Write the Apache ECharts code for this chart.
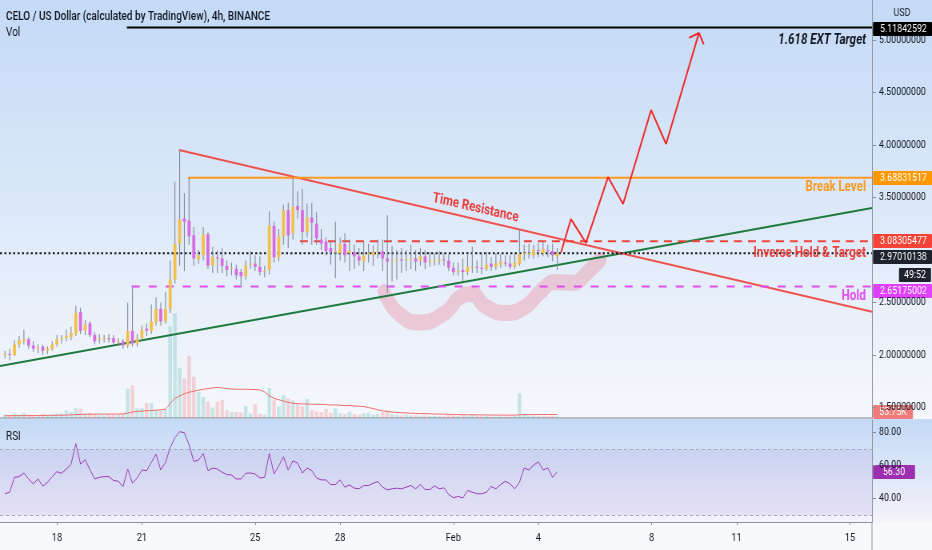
<!DOCTYPE html>
<html>
<head>
<meta charset="utf-8">
<script src="https://cdn.jsdelivr.net/npm/echarts@6/dist/echarts.min.js"></script>
<style>
  html, body { margin: 0; padding: 0; background: #f7f8fc; overflow: hidden; }
  body { width: 932px; height: 550px; }
  /* The chart is laid out on a wider canvas and narrowed horizontally,
     which gives the condensed look of the trading terminal's type. */
  #chart { width: 1165px; height: 550px; transform: scaleX(0.8); transform-origin: 0 0; }
</style>
</head>
<body>
<div id="chart"></div>
<script>
// ---- CELO/USD 4h candles (Binance) ----
// Time is measured in days: Jan d 00:00 = d, Feb 1 00:00 = 32.
const FIRST_BAR_DAY = 16 + 4 / 24;     // Jan 16 04:00
const BAR_DAYS = 4 / 24;                // 4h bars

// [open, high, low, close]
const candles = [
  [2.00,2.04,1.97,2.01],[2.01,2.06,1.95,2.00],[2.00,2.14,1.99,2.10],[2.10,2.18,2.07,2.14],
  [2.13,2.24,2.10,2.15],[2.15,2.17,2.06,2.09],[2.09,2.13,2.03,2.06],[2.06,2.10,2.02,2.07],
  [2.08,2.10,2.00,2.04],[2.04,2.08,2.01,2.06],[2.06,2.13,2.04,2.10],[2.10,2.19,2.08,2.15],
  [2.15,2.19,2.11,2.16],[2.16,2.24,2.13,2.18],[2.17,2.27,2.14,2.21],[2.20,2.47,2.18,2.40],
  [2.41,2.45,2.20,2.23],[2.23,2.33,2.19,2.29],[2.30,2.32,2.17,2.19],[2.19,2.22,2.10,2.13],
  [2.14,2.20,2.11,2.15],[2.15,2.19,2.12,2.16],[2.16,2.20,2.12,2.15],[2.16,2.19,2.10,2.12],
  [2.12,2.16,2.09,2.13],[2.13,2.15,2.06,2.09],[2.09,2.50,2.07,2.23],[2.23,2.65,2.08,2.11],
  [2.11,2.20,2.08,2.16],[2.16,2.28,2.13,2.24],[2.25,2.30,2.18,2.23],[2.23,2.48,2.20,2.32],
  [2.31,2.55,2.28,2.44],[2.44,2.50,2.28,2.32],[2.32,2.60,2.30,2.44],[2.44,2.90,2.40,2.72],
  [2.72,3.65,2.68,3.06],[3.06,3.95,2.85,3.29],[3.30,3.54,2.80,3.27],[3.28,3.69,3.05,3.13],
  [3.14,3.22,2.85,2.92],[2.91,3.00,2.87,2.95],[2.95,3.22,2.90,3.15],[3.15,3.17,2.82,2.85],
  [2.85,3.03,2.78,2.93],[2.93,3.00,2.78,2.92],[2.92,3.02,2.78,2.85],[2.85,2.90,2.75,2.81],
  [2.82,2.88,2.76,2.83],[2.82,2.86,2.72,2.76],[2.79,2.82,2.66,2.75],[2.75,2.90,2.72,2.85],
  [2.86,2.99,2.82,2.87],[2.87,2.95,2.80,2.84],[2.84,2.94,2.76,2.79],[2.80,2.85,2.74,2.80],
  [2.81,3.37,2.77,3.23],[3.23,3.27,2.88,2.93],[2.93,3.20,2.89,3.13],[3.13,3.43,3.05,3.38],
  [3.38,3.45,3.02,3.14],[3.16,3.69,3.10,3.41],[3.42,3.56,3.30,3.38],[3.38,3.58,3.05,3.17],
  [3.17,3.44,3.12,3.31],[3.31,3.45,3.05,3.26],[3.25,3.36,3.05,3.11],[3.10,3.20,3.00,3.06],
  [3.08,3.12,2.95,2.99],[3.02,3.09,2.86,2.98],[2.98,3.27,2.73,2.99],[2.97,3.12,2.90,3.06],
  [3.06,3.16,2.88,2.95],[2.97,3.10,2.80,2.99],[2.98,3.05,2.82,2.94],[2.94,3.02,2.85,2.90],
  [2.89,3.08,2.80,2.95],[2.96,3.06,2.88,2.97],[2.95,3.04,2.85,2.98],[2.99,3.10,2.92,2.99],
  [2.99,3.10,2.80,2.92],[2.92,3.33,2.59,2.89],[2.89,3.04,2.70,2.90],[2.90,3.00,2.72,2.91],
  [2.91,3.02,2.78,2.90],[2.90,3.00,2.80,2.91],[2.91,3.05,2.82,2.92],[2.92,3.00,2.80,2.89],
  [2.90,3.02,2.85,2.94],[2.94,3.00,2.82,2.88],[2.89,2.98,2.84,2.90],[2.90,2.97,2.85,2.90],
  [2.90,2.99,2.86,2.91],[2.91,2.97,2.85,2.90],[2.90,2.96,2.80,2.83],[2.83,2.88,2.76,2.79],
  [2.79,2.88,2.76,2.80],[2.81,2.92,2.70,2.79],[2.79,2.95,2.76,2.84],[2.84,3.03,2.78,2.84],
  [2.84,2.90,2.78,2.83],[2.83,2.97,2.77,2.82],[2.82,2.98,2.80,2.86],[2.87,2.93,2.80,2.84],
  [2.84,2.97,2.81,2.87],[2.86,2.96,2.83,2.89],[2.88,2.95,2.84,2.87],[2.87,2.95,2.82,2.84],
  [2.84,2.96,2.82,2.88],[2.87,3.20,2.85,2.96],[2.96,3.05,2.90,2.97],[2.97,3.06,2.92,2.97],
  [2.95,3.05,2.92,3.00],[3.00,3.07,2.93,2.99],[2.97,3.08,2.94,3.01],[3.00,3.05,2.93,2.99],
  [2.99,3.06,2.89,2.95],[2.94,3.02,2.81,2.97010138]
];

// Volume per bar, thousands of CELO
const volume = [
  60,45,70,55,80,50,45,40,60,50,55,70,65,120,95,150,145,70,80,60,
  45,40,50,55,45,60,450,500,150,150,230,230,120,110,130,1400,1600,770,610,950,
  630,400,320,250,160,250,280,120,90,90,80,180,70,210,60,50,460,280,180,350,
  300,270,210,180,290,120,100,90,140,80,150,70,60,90,60,50,70,80,50,60,
  90,110,60,50,40,50,40,45,35,40,30,35,30,25,45,40,30,45,35,50,
  30,25,30,25,20,25,20,25,30,380,60,40,35,30,25,30,35,25
];

// Volume moving average, thousands
const volumeMA = [
  35,35,36,36,37,37,38,38,39,40,40,41,42,45,48,52,55,57,58,59,
  60,60,60,61,61,62,75,90,100,105,110,115,120,125,135,220,300,340,370,395,
  410,425,440,450,460,470,460,450,445,440,440,440,438,435,430,400,340,300,280,260,
  240,225,220,215,215,210,210,210,205,200,200,195,190,190,185,180,175,160,145,125,
  110,100,90,85,80,77,74,70,68,66,64,62,60,58,56,54,52,51,50,49,
  48,47,46,45,45,44,44,44,44,50,51,52,52,53,53,53.5,53.7,53.75
];

// RSI(14)
const rsi = [
  43,44,53,53.4,55.6,52,49,52,47.6,50,
  53.4,56.4,55.4,58,61,73.4,61,63.6,57.6,52,
  53,53.4,53.4,51,50.6,47.4,58,49.4,52.6,57.4,
  57,62,67,57.4,62,71,77,80.6,80,72.6,
  62.6,63.4,67.4,57,58.6,58,56,54.6,54.4,52,
  52,55.4,55.6,55,52.6,53,67.4,55,60,65.4,
  57.4,63,61.6,55.6,58.6,57,52.6,51.4,51.4,48.6,
  48.6,51.4,47,48.4,46.4,46,48,48,49.4,50.4,
  47,45.4,46,46.4,46,47,48,46,48.6,45.6,
  45.6,47.8,46,46.6,42.6,40.6,41.4,40.4,45,44,
  43,43,44,47.4,46,48.6,50.6,49,46,50,
  58.6,57.4,60.4,62.4,57.4,58.6,53,56.3
];

// ---- Drawn levels and studies ----
const EXT_TARGET = 5.11842592;
const BREAK_LEVEL = 3.68831517;
const INVERSE_TARGET = 3.08305477;
const LAST_PRICE = 2.97010138;
const HOLD_LEVEL = 2.65175002;

const extTargetStartDay = 20.47;
const breakStartDay = 22.63;
const inverseStartDay = 26.58;
const holdStartDay = 20.64;

// Trend lines: [day, price]
const resistanceLine = [[22.31, 3.952], [46.78, 2.412]];
const supportLine = [[15.99, 1.895], [46.78, 3.40]];

// Projected path and its arrow head
const projection = [
  [35.80, 2.976], [36.15, 3.295], [36.68, 3.067], [37.46, 3.695],
  [37.99, 3.438], [38.98, 4.333], [39.51, 4.010], [40.67, 5.067]
];
const arrowHead = [[40.32, 5.02], [40.67, 5.067], [40.84, 4.96]];

// Inverse head & shoulders highlight
const patternStroke = [
  [29.55, 2.60], [30.04, 2.40], [30.82, 2.31], [31.70, 2.40], [32.30, 2.562],
  [32.66, 2.58], [33.11, 2.467], [33.82, 2.40], [34.53, 2.457], [35.06, 2.60],
  [35.59, 2.695], [36.19, 2.686], [36.82, 2.81], [37.18, 2.905]
];

// ---- Axes ----
const X_MIN = 15.99, X_MAX = 46.78;
const PRICE_MIN = 1.4, PRICE_MAX = 5.381;
const VOL_MAX = 6400;
const RSI_MIN = 25.9, RSI_MAX = 87.7;
const priceTicks = [1.5, 2.0, 2.5, 3.5, 4.0, 4.5, 5.0];
const rsiTicks = [40, 60, 80];
const timeTickDays = [18, 21, 25, 28, 32, 35, 39, 42, 46];
const timeTickLabels = ['18', '21', '25', '28', 'Feb', '4', '8', '11', '15'];

// Layout: canvas width and the horizontal narrowing applied by CSS
const SX = 0.8;
const W = 1165;
const X = px => px / SX;            // screen px -> canvas px
const SCALE_W = X(60);              // price scale strip width

const FONT = 'Roboto, "Liberation Sans", sans-serif';
const NOTE_SIZE = 14.5;

const barDay = candles.map((_, i) => FIRST_BAR_DAY + i * BAR_DAYS);
const candleData = candles.map((c, i) => [barDay[i], c[0], c[1], c[2], c[3]]);
const volumeData = volume.map((v, i) => [barDay[i], v, candles[i][3] >= candles[i][0] ? 1 : 0]);
const volumeMAData = volumeMA.map((v, i) => [barDay[i], v]);
const rsiData = rsi.map((v, i) => [barDay[i], v]);

function renderCandle(params, api) {
  const x = api.value(0);
  const o = api.value(1), h = api.value(2), l = api.value(3), c = api.value(4);
  const pH = api.coord([x, h]), pL = api.coord([x, l]);
  const pO = api.coord([x, o]), pC = api.coord([x, c]);
  const cx = pH[0];
  const top = Math.min(pO[1], pC[1]);
  const bodyH = Math.max(1, Math.abs(pO[1] - pC[1]));
  const up = c >= o;
  return {
    type: 'group',
    children: [
      { type: 'line', shape: { x1: cx, y1: pH[1], x2: cx, y2: pL[1] },
        style: { stroke: '#7f8898', lineWidth: 1.1 } },
      { type: 'rect', shape: { x: cx - X(1.5), y: top, width: X(3), height: bodyH },
        style: { fill: up ? '#f2c04c' : '#d86be0' } }
    ]
  };
}

function renderVolume(params, api) {
  const x = api.value(0);
  const base = api.coord([x, 0]);
  const tip = api.coord([x, api.value(1)]);
  return {
    type: 'rect',
    shape: { x: base[0] - X(1.8), y: tip[1], width: X(3.6), height: base[1] - tip[1] },
    style: { fill: api.value(2) ? 'rgba(38,166,154,0.22)' : 'rgba(239,83,80,0.22)' }
  };
}

function levelSeries(name, data, color, width, dash, z) {
  return {
    type: 'line', name, xAxisIndex: 0, yAxisIndex: 0, data,
    symbol: 'none', silent: true, z: z || 3,
    lineStyle: { color, width, type: dash || 'solid', cap: 'butt' }
  };
}

const chart = echarts.init(document.getElementById('chart'), null, { renderer: 'canvas', width: W, height: 550 });

const axisColor = '#8c929d';
const option = {
  animation: false,
  textStyle: { fontFamily: FONT },
  grid: [
    { left: 0, right: SCALE_W, top: 0, height: 418, outerBoundsMode: 'none', containLabel: false },
    { left: 0, right: SCALE_W, top: 420, height: 102, outerBoundsMode: 'none', containLabel: false }
  ],
  xAxis: [
    { type: 'value', gridIndex: 0, min: X_MIN, max: X_MAX,
      axisLine: { show: true, onZero: false, lineStyle: { color: '#b9bec8', width: 2 } },
      axisTick: { show: false }, axisLabel: { show: false }, splitLine: { show: false } },
    { type: 'value', gridIndex: 1, min: X_MIN, max: X_MAX,
      axisLine: { show: true, onZero: false, lineStyle: { color: axisColor } },
      axisTick: { show: true, length: 3, customValues: timeTickDays, lineStyle: { color: axisColor } },
      axisLabel: { customValues: timeTickDays, color: '#131722', fontSize: 11.5, margin: 10, fontFamily: FONT,
        formatter: v => timeTickLabels[timeTickDays.indexOf(v)] },
      splitLine: { show: false } }
  ],
  yAxis: [
    { type: 'value', gridIndex: 0, position: 'right', min: PRICE_MIN, max: PRICE_MAX,
      axisLine: { show: true, onZero: false, lineStyle: { color: axisColor } },
      axisTick: { show: true, length: X(4), customValues: priceTicks, lineStyle: { color: axisColor } },
      axisLabel: { customValues: priceTicks, color: '#131722', fontSize: 11, margin: X(7), fontFamily: FONT,
        formatter: v => v.toFixed(8) },
      splitLine: { show: false } },
    { type: 'value', gridIndex: 0, min: 0, max: VOL_MAX, show: false, splitLine: { show: false } },
    { type: 'value', gridIndex: 1, position: 'right', min: RSI_MIN, max: RSI_MAX,
      axisLine: { show: true, onZero: false, lineStyle: { color: axisColor } },
      axisTick: { show: true, length: X(4), customValues: rsiTicks, lineStyle: { color: axisColor } },
      axisLabel: { customValues: rsiTicks, color: '#131722', fontSize: 11, margin: X(7), fontFamily: FONT,
        formatter: v => v.toFixed(2) },
      splitLine: { show: false } }
  ],
  series: [
    { type: 'custom', name: 'Volume', xAxisIndex: 0, yAxisIndex: 1, data: volumeData,
      renderItem: renderVolume, encode: { x: 0, y: 1 }, silent: true, z: 1 },
    { type: 'line', name: 'Volume MA', xAxisIndex: 0, yAxisIndex: 1, data: volumeMAData,
      symbol: 'none', silent: true, z: 1, lineStyle: { color: '#ee6f6c', width: 1 } },
    { type: 'line', name: 'Pattern', xAxisIndex: 0, yAxisIndex: 0, data: patternStroke,
      symbol: 'none', smooth: 0.5, silent: true, z: 1,
      lineStyle: { color: 'rgba(236,124,144,0.34)', width: 16, cap: 'round', join: 'round' } },
    levelSeries('Support', supportLine, '#1f7a3e', 2, 'solid', 3),
    levelSeries('Time Resistance', resistanceLine, '#f0524f', 2, 'solid', 3),
    levelSeries('Hold', [[holdStartDay, HOLD_LEVEL], [X_MAX, HOLD_LEVEL]], '#e04ff0', 2, [X(8), X(9)], 3),
    levelSeries('Inverse Hold & Target', [[inverseStartDay, INVERSE_TARGET], [X_MAX, INVERSE_TARGET]], '#f0443c', 2, [X(8), X(6)], 3),
    levelSeries('Break Level', [[breakStartDay, BREAK_LEVEL], [X_MAX, BREAK_LEVEL]], '#ff9a1f', 2, 'solid', 3),
    levelSeries('1.618 EXT Target', [[extTargetStartDay, EXT_TARGET], [X_MAX, EXT_TARGET]], '#000000', 2, 'solid', 3),
    levelSeries('Last', [[X_MIN, LAST_PRICE], [X_MAX, LAST_PRICE]], '#1b1b1b', 2, [X(2), X(2.4)], 4),
    { type: 'custom', name: 'CELO', xAxisIndex: 0, yAxisIndex: 0, data: candleData,
      renderItem: renderCandle, encode: { x: 0, y: [1, 2, 3, 4] }, silent: true, z: 5 },
    levelSeries('Projection', projection, '#f02a2a', 2, 'solid', 6),
    levelSeries('Arrow', arrowHead, '#f02a2a', 2, 'solid', 6),
    { type: 'line', name: 'RSI', xAxisIndex: 1, yAxisIndex: 2, data: rsiData,
      symbol: 'none', silent: true, z: 4, lineStyle: { color: '#9a3db4', width: 1 },
      markArea: { silent: true, itemStyle: { color: 'rgba(126,87,194,0.10)' },
        data: [[{ yAxis: 70 }, { yAxis: 30 }]] },
      markLine: { silent: true, symbol: 'none', label: { show: false },
        lineStyle: { color: '#a4a8b4', type: [X(3), X(3)], width: 1 },
        data: [{ yAxis: 70 }, { yAxis: 30 }] } }
  ]
};
chart.setOption(option);

// ---- Overlays: backgrounds, texts and price-scale tags ----
const toPx = (d, p) => chart.convertToPixel({ gridIndex: 0 }, [d, p]);
const priceY = p => chart.convertToPixel({ yAxisIndex: 0 }, p);
const rsiY = v => chart.convertToPixel({ yAxisIndex: 2 }, v);
const volY = v => chart.convertToPixel({ yAxisIndex: 1 }, v);
const rightX = chart.convertToPixel({ xAxisIndex: 0 }, X_MAX);

function grad(c0, c1) {
  return new echarts.graphic.LinearGradient(0, 0, 0, 1, [{ offset: 0, color: c0 }, { offset: 1, color: c1 }]);
}

// Price-scale tag; w (screen px) makes a short tag, aligned left or right
function tag(y, text, bg, w, alignRight) {
  const width = w ? X(w) : W - rightX - X(1);
  const x = w ? (alignRight ? W - width - X(1) : rightX + X(1)) : rightX + X(1);
  const cy = Math.round(y);
  return {
    type: 'group', z: 200, children: [
      { type: 'rect', shape: { x, y: cy - 7, width, height: 14, r: 1 }, style: { fill: bg } },
      { type: 'text', x: w ? x + width / 2 : x + X(7), y: cy,
        style: { text, fill: '#ffffff', fontSize: 11, fontFamily: FONT,
          align: w ? 'center' : 'left', verticalAlign: 'middle' } }
    ]
  };
}

function note(x, y, text, color, extra) {
  return {
    type: 'text', x, y, z: 150,
    style: Object.assign({ text, fill: color, fontSize: NOTE_SIZE, fontWeight: 'bold', fontFamily: FONT,
      align: 'right', verticalAlign: 'middle' }, extra || {})
  };
}

const rA = toPx(resistanceLine[0][0], resistanceLine[0][1]);
const rB = toPx(resistanceLine[1][0], resistanceLine[1][1]);
const ang = Math.atan2(rB[1] - rA[1], rB[0] - rA[0]);
const tx = X(474);
const ty = rA[1] + (tx - rA[0]) * Math.tan(ang);
const labelOff = 11;
const noteRight = rightX - X(6);

const lastVol = volumeMA[volumeMA.length - 1];
const lastRsi = rsi[rsi.length - 1];

const graphics = [
  { type: 'rect', z: -100, silent: true, shape: { x: 0, y: 0, width: W, height: 419 },
    style: { fill: grad('#c4daf6', '#f6f8fc') } },
  { type: 'rect', z: -100, silent: true, shape: { x: 0, y: 419, width: W, height: 103 },
    style: { fill: grad('#c4daf6', '#f5f3fb') } },
  { type: 'rect', z: -100, silent: true, shape: { x: 0, y: 522, width: W, height: 28 },
    style: { fill: '#f8f9fd' } },
  { type: 'line', z: 50, silent: true, shape: { x1: rightX, y1: 522, x2: rightX, y2: 550 },
    style: { stroke: axisColor, lineWidth: 1 } },

  { type: 'text', x: X(6), y: 17, z: 150, style: { text: 'CELO / US Dollar (calculated by TradingView), 4h, BINANCE',
      fill: '#131722', fontSize: 12.5, fontWeight: 500, fontFamily: FONT, verticalAlign: 'middle' } },
  { type: 'text', x: X(6), y: 33, z: 150, style: { text: 'Vol', fill: '#131722', fontSize: 12.5, fontFamily: FONT, verticalAlign: 'middle' } },
  { type: 'text', x: X(6), y: 437, z: 150, style: { text: 'RSI', fill: '#131722', fontSize: 12.5, fontFamily: FONT, verticalAlign: 'middle' } },
  { type: 'text', x: X(902), y: 13, z: 150, style: { text: 'USD', fill: '#131722', fontSize: 11, fontFamily: FONT,
      align: 'center', verticalAlign: 'middle' } },

  note(noteRight, priceY(EXT_TARGET) + 13, '1.618 EXT Target', '#131722', { fontStyle: 'italic' }),
  note(noteRight, priceY(BREAK_LEVEL) + 10, 'Break Level', '#f79a1e'),
  note(noteRight, priceY(INVERSE_TARGET) + 12, 'Inverse Hold & Target', '#e8413c'),
  note(noteRight, priceY(HOLD_LEVEL) + 10, 'Hold', '#e04ff0'),
  { type: 'text', z: 150, x: tx + Math.sin(ang) * labelOff, y: ty - Math.cos(ang) * labelOff, rotation: -ang,
    style: { text: 'Time Resistance', fill: '#ea3f3c', fontSize: NOTE_SIZE, fontWeight: 'bold', fontFamily: FONT,
      align: 'center', verticalAlign: 'middle' } },

  tag(priceY(EXT_TARGET) + 1.5, EXT_TARGET.toFixed(8), '#000000'),
  tag(priceY(BREAK_LEVEL), BREAK_LEVEL.toFixed(8), '#ff9800'),
  tag(priceY(INVERSE_TARGET), INVERSE_TARGET.toFixed(8), '#f44336'),
  tag(priceY(LAST_PRICE) + 4, LAST_PRICE.toFixed(8), '#1e222d'),
  tag(priceY(LAST_PRICE) + 22, '49:52', '#1e222d', 32, true),
  tag(priceY(HOLD_LEVEL) + 4.5, HOLD_LEVEL.toFixed(8), '#e040fb'),
  tag(Math.min(volY(lastVol), 412), lastVol.toFixed(2) + 'K', '#ef7d7b', 40),
  tag(rsiY(lastRsi), lastRsi.toFixed(2), '#9c2fb0', 42)
];

chart.setOption({ graphic: graphics });
</script>
</body>
</html>
